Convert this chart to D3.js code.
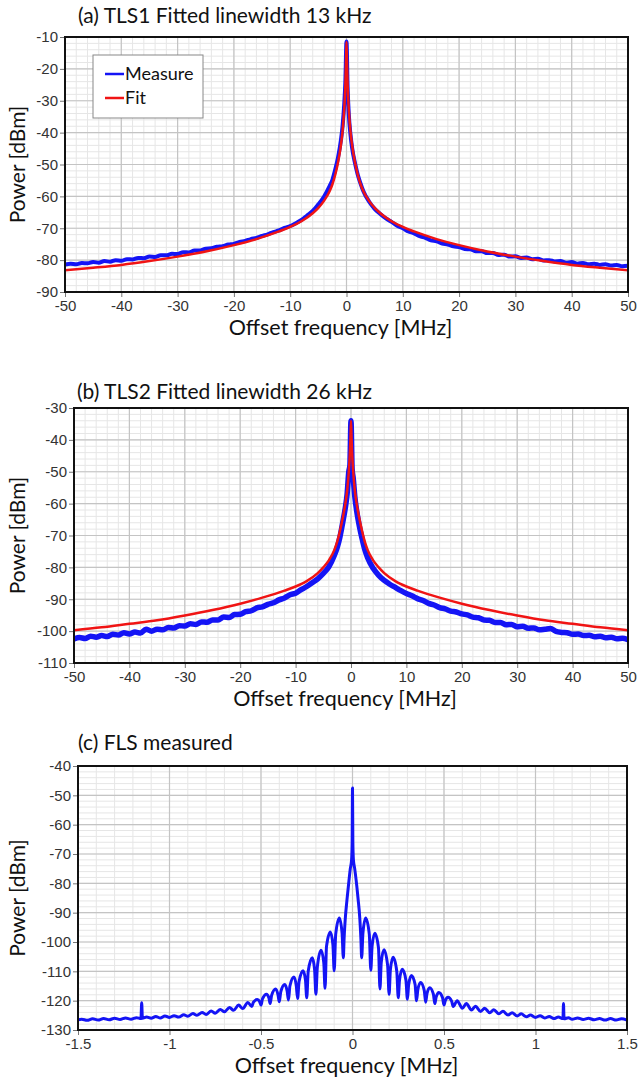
<!DOCTYPE html>
<html>
<head>
<meta charset="utf-8">
<script src="https://cdn.jsdelivr.net/npm/d3@7"></script>
<style>
  body { margin: 0; background: #fff; }
  svg { display: block; font-family: Lato, "Open Sans", sans-serif; }
  .tick-label { font-size: 15px; fill: #333; }
</style>
</head>
<body>
<svg id="chart" width="638" height="1081"></svg>
<script>
// tick labels
const xTicksAB = [-50, -40, -30, -20, -10, 0, 10, 20, 30, 40, 50];
const xTicksC = [-1.5, -1, -0.5, 0, 0.5, 1, 1.5];
const yTicksA = [-90, -80, -70, -60, -50, -40, -30, -20, -10];
const yTicksB = [-110, -100, -90, -80, -70, -60, -50, -40, -30];
const yTicksC = [-130, -120, -110, -100, -90, -80, -70, -60, -50, -40];

// (a) TLS1 measured spectrum [MHz, dBm]
const measureA = [
  [-50, -81.4], [-49, -81.1], [-48, -81.3], [-47, -80.9], [-46, -81.0], [-45, -80.6], [-44, -80.8],
  [-43, -80.3], [-42, -80.5], [-41, -80.0], [-40, -80.2], [-39, -79.7], [-38, -79.8], [-37, -79.3],
  [-36, -79.4], [-35, -78.9], [-34, -79.0], [-33, -78.5], [-32, -78.5], [-31, -78.0], [-30, -78.1],
  [-29, -77.5], [-28, -77.6], [-27, -77.0], [-26, -77.0], [-25, -76.4], [-24, -76.3], [-23, -75.8],
  [-22, -75.6], [-21, -75.1], [-20, -74.9], [-19, -74.3], [-18, -74.0], [-17, -73.4], [-16, -73.0],
  [-15, -72.4], [-14, -71.9], [-13, -71.2], [-12, -70.7], [-11, -69.9], [-10, -69.3], [-9, -68.4],
  [-8, -67.4], [-7, -66.0], [-6, -64.6], [-5, -62.5], [-4, -60.1], [-3, -56.8], [-2.5, -54.8],
  [-2, -51.6], [-1.5, -47.8], [-1, -42.5], [-0.7, -38], [-0.4, -31], [-0.2, -24], [0, -11.4],
  [0.2, -26], [0.4, -34], [0.7, -40.5], [1, -44.8], [1.5, -49.5], [2, -53.2], [2.5, -56], [3, -58.4],
  [4, -61.6], [5, -63.9], [6, -65.5], [7, -66.9], [8, -68.0], [9, -69.2], [10, -70.0], [11, -71.0],
  [12, -71.6], [13, -72.5], [14, -73.0], [15, -73.8], [16, -74.1], [17, -74.8], [18, -75.1],
  [19, -75.7], [20, -75.9], [21, -76.5], [22, -76.6], [23, -77.2], [24, -77.2], [25, -77.8],
  [26, -77.8], [27, -78.4], [28, -78.3], [29, -78.9], [30, -78.8], [31, -79.3], [32, -79.2],
  [33, -79.7], [34, -79.6], [35, -80.1], [36, -80.0], [37, -80.4], [38, -80.3], [39, -80.8],
  [40, -80.6], [41, -81.1], [42, -80.9], [43, -81.3], [44, -81.1], [45, -81.5], [46, -81.3],
  [47, -81.7], [48, -81.5], [49, -81.9], [50, -81.8]
];

// (a) Lorentzian fit
const fitA = [
  [-50, -83.2], [-45, -82.4], [-40, -81.5], [-35, -80.3], [-30, -78.9], [-25, -77.3], [-20, -75.3],
  [-16, -73.4], [-12, -71.0], [-10, -69.6], [-8, -67.8], [-6, -65.3], [-5, -63.6], [-4, -61.4],
  [-3, -58.4], [-2.5, -56.2], [-2, -53.2], [-1.5, -49.3], [-1, -44], [-0.7, -39.5], [-0.4, -32.5],
  [-0.2, -25], [-0.1, -18.5], [0, -11.5], [0.1, -18.5], [0.2, -25], [0.4, -32.5], [0.7, -39.5],
  [1, -44], [1.5, -49.3], [2, -53.2], [2.5, -56.2], [3, -58.4], [4, -61.4], [5, -63.6], [6, -65.3],
  [8, -67.8], [10, -69.6], [12, -71.0], [16, -73.4], [20, -75.3], [25, -77.3], [30, -78.9],
  [35, -80.3], [40, -81.5], [45, -82.4], [50, -83.2]
];

// (b) TLS2 measured spectrum
const measureB = [
  [-50, -102.5], [-49, -102.0], [-48, -102.3], [-47, -101.6], [-46, -101.9], [-45, -101.4],
  [-44, -101.7], [-43, -101.0], [-42, -101.2], [-41, -100.5], [-40, -100.9], [-39, -100.3],
  [-38, -100.6], [-37, -99.4], [-36, -100.0], [-35, -99.4], [-34, -99.6], [-33, -98.9], [-32, -99.0],
  [-31, -98.3], [-30, -98.4], [-29, -97.7], [-28, -97.9], [-27, -97.1], [-26, -97.2], [-25, -96.5],
  [-24, -96.5], [-23, -95.6], [-22, -95.7], [-21, -94.8], [-20, -94.7], [-19, -93.9], [-18, -93.6],
  [-17, -92.7], [-16, -92.4], [-15, -91.6], [-14, -91.1], [-13, -90.2], [-12, -89.6], [-11, -88.6],
  [-10, -88.1], [-9, -87.0], [-8, -86.0], [-7, -84.8], [-6, -83.6], [-5, -81.9], [-4, -79.8],
  [-3, -76.2], [-2.5, -73.8], [-2, -70.5], [-1.5, -66], [-1, -61], [-0.7, -57], [-0.4, -50],
  [-0.2, -48], [0, -34], [0.2, -49], [0.4, -52], [0.7, -58], [1, -62], [1.5, -67], [2, -71],
  [2.5, -74.5], [3, -77], [4, -80.3], [5, -82.5], [6, -84.1], [7, -85.3], [8, -86.3], [9, -87.3],
  [10, -88.2], [11, -88.9], [12, -89.8], [13, -90.4], [14, -91.3], [15, -91.8], [16, -92.6],
  [17, -93.0], [18, -93.7], [19, -94.0], [20, -94.6], [21, -94.9], [22, -95.6], [23, -95.8],
  [24, -96.5], [25, -96.6], [26, -97.3], [27, -97.3], [28, -98.0], [29, -97.9], [30, -98.6],
  [31, -98.5], [32, -99.1], [33, -99.0], [34, -99.6], [35, -99.4], [36, -99.2], [37, -100.1],
  [38, -100.4], [39, -100.5], [40, -101.0], [41, -100.9], [42, -101.4], [43, -101.3], [44, -101.8],
  [45, -101.6], [46, -102.1], [47, -101.9], [48, -102.4], [49, -102.2], [50, -102.7]
];

// (b) Lorentzian fit
const fitB = [
  [-50, -99.7], [-45, -98.8], [-40, -97.7], [-35, -96.6], [-30, -95.1], [-25, -93.4], [-20, -91.4],
  [-16, -89.5], [-12, -87.3], [-10, -86.0], [-8, -84.3], [-6, -81.8], [-5, -80.0], [-4, -77.8],
  [-3, -74.5], [-2.5, -72.0], [-2, -68.6], [-1.5, -64.6], [-1, -59.8], [-0.7, -56], [-0.4, -50],
  [-0.2, -44], [-0.1, -39.5], [0, -34], [0.1, -39.5], [0.2, -44], [0.4, -50], [0.7, -56],
  [1, -59.8], [1.5, -64.6], [2, -68.6], [2.5, -72.0], [3, -74.5], [4, -77.8], [5, -80.0],
  [6, -81.8], [8, -84.3], [10, -86.0], [12, -87.3], [16, -89.5], [20, -91.4], [25, -93.4],
  [30, -95.1], [35, -96.6], [40, -97.7], [45, -98.8], [50, -99.7]
];

// (c) FLS measured spectrum
const measureC = [
  [-1.5, -126.5], [-1.48, -126.3], [-1.45, -126.7], [-1.42, -126.2], [-1.39, -126.6], [-1.36, -126.1],
  [-1.33, -126.5], [-1.3, -126.0], [-1.27, -126.4], [-1.24, -125.9], [-1.21, -126.3], [-1.18, -125.8],
  [-1.156, -126.1], [-1.152, -120.7], [-1.148, -126.0], [-1.125, -125.6], [-1.1, -126.0],
  [-1.075, -125.4], [-1.05, -125.9], [-1.025, -125.2], [-1.0, -125.7], [-0.975, -125.1],
  [-0.95, -125.6], [-0.922, -124.8], [-0.9, -125.3], [-0.872, -124.4], [-0.85, -125.0],
  [-0.822, -124.0], [-0.8, -124.7], [-0.772, -123.5], [-0.75, -124.3], [-0.722, -123.0],
  [-0.7, -123.8], [-0.672, -122.3], [-0.65, -123.3], [-0.622, -121.5], [-0.6, -122.7],
  [-0.572, -120.6], [-0.55, -122.0], [-0.542, -120.6], [-0.52, -119.6], [-0.507, -120.4],
  [-0.5, -121.5], [-0.492, -119.4], [-0.47, -117.8], [-0.457, -119.0], [-0.45, -121.0],
  [-0.442, -118.2], [-0.42, -116.0], [-0.407, -118.0], [-0.4, -120.4], [-0.392, -117.0],
  [-0.37, -114.5], [-0.357, -116.8], [-0.35, -119.8], [-0.342, -115.0], [-0.32, -111.9],
  [-0.307, -115.0], [-0.3, -119.3], [-0.292, -113.5], [-0.27, -109.8], [-0.257, -113.0],
  [-0.25, -119.0], [-0.242, -110.0], [-0.22, -105.4], [-0.207, -109.5], [-0.2, -117.8],
  [-0.192, -108.5], [-0.172, -102.8], [-0.157, -107.0], [-0.15, -115.8], [-0.142, -101.5],
  [-0.121, -96.6], [-0.107, -101.0], [-0.1, -109.8], [-0.092, -97.5], [-0.072, -91.8],
  [-0.057, -97.0], [-0.05, -105.4], [-0.046, -99.0], [-0.04, -92.5], [-0.03, -85.5], [-0.02, -79.5],
  [-0.012, -75.0], [-0.005, -72.0], [-0.002, -66.0], [0, -47.5], [0.002, -66.0], [0.005, -72.0],
  [0.012, -75.0], [0.02, -79.0], [0.03, -85.0], [0.04, -92.0], [0.046, -99.0], [0.05, -105.4],
  [0.057, -97.0], [0.072, -91.8], [0.092, -97.5], [0.1, -109.6], [0.107, -101.5], [0.122, -97.0],
  [0.142, -102.0], [0.15, -116.0], [0.157, -107.0], [0.172, -102.6], [0.192, -108.0], [0.2, -117.8],
  [0.207, -109.5], [0.222, -105.2], [0.242, -110.0], [0.25, -119.0], [0.257, -113.0],
  [0.272, -109.3], [0.292, -113.0], [0.3, -119.5], [0.307, -114.5], [0.322, -111.4],
  [0.342, -114.5], [0.35, -120.0], [0.357, -116.3], [0.372, -113.8], [0.392, -116.5],
  [0.4, -120.5], [0.407, -117.6], [0.422, -115.6], [0.442, -117.8], [0.45, -121.0],
  [0.457, -118.8], [0.472, -117.2], [0.492, -119.0], [0.5, -121.5], [0.507, -120.0],
  [0.522, -118.8], [0.542, -120.2], [0.55, -122.0], [0.572, -120.0], [0.6, -122.6],
  [0.622, -121.0], [0.65, -123.2], [0.672, -121.9], [0.7, -123.7], [0.722, -122.6],
  [0.75, -124.1], [0.772, -123.1], [0.8, -124.5], [0.822, -123.6], [0.85, -124.9],
  [0.872, -124.1], [0.9, -125.2], [0.922, -124.5], [0.95, -125.5], [0.972, -124.9],
  [1.0, -125.7], [1.025, -125.1], [1.05, -125.9], [1.075, -125.4], [1.1, -126.1], [1.125, -125.6],
  [1.15, -126.1], [1.153, -121.0], [1.156, -126.2], [1.18, -125.8], [1.2, -126.3], [1.23, -125.9],
  [1.26, -126.4], [1.29, -126.0], [1.32, -126.5], [1.35, -126.1], [1.38, -126.6], [1.41, -126.1],
  [1.44, -126.6], [1.47, -126.2], [1.5, -126.6]
];

const BLUE = '#1414f5';
const RED = '#f01414';

const svg = d3.select('#chart');

function drawPanel(cfg) {
  const x = d3.scaleLinear().domain(cfg.xDomain).range([cfg.left, cfg.right]);
  const y = d3.scaleLinear().domain(cfg.yDomain).range([cfg.bottom, cfg.top]);
  const g = svg.append('g');

  // minor grid (5 subdivisions)
  const xStep = (cfg.xTicks[1] - cfg.xTicks[0]) / 5;
  const yStep = (cfg.yTicks[1] - cfg.yTicks[0]) / 5;
  const xMinor = d3.range(cfg.xDomain[0], cfg.xDomain[1] + 1e-9, xStep);
  const yMinor = d3.range(cfg.yDomain[0], cfg.yDomain[1] + 1e-9, yStep);

  g.append('g').selectAll('line').data(xMinor).join('line')
    .attr('x1', d => x(d)).attr('x2', d => x(d))
    .attr('y1', cfg.top).attr('y2', cfg.bottom)
    .attr('stroke', '#e6e6e6').attr('stroke-width', 1);
  g.append('g').selectAll('line').data(yMinor).join('line')
    .attr('x1', cfg.left).attr('x2', cfg.right)
    .attr('y1', d => y(d)).attr('y2', d => y(d))
    .attr('stroke', '#e6e6e6').attr('stroke-width', 1);

  // major grid
  g.append('g').selectAll('line').data(cfg.xTicks).join('line')
    .attr('x1', d => x(d)).attr('x2', d => x(d))
    .attr('y1', cfg.top).attr('y2', cfg.bottom)
    .attr('stroke', '#c4c4c4').attr('stroke-width', 1.2);
  g.append('g').selectAll('line').data(cfg.yTicks).join('line')
    .attr('x1', cfg.left).attr('x2', cfg.right)
    .attr('y1', d => y(d)).attr('y2', d => y(d))
    .attr('stroke', '#c4c4c4').attr('stroke-width', 1.2);

  // axes
  const xAxis = d3.axisBottom(x).tickValues(cfg.xTicks).tickSize(5).tickPadding(3)
    .tickFormat(d => String(d));
  const yAxis = d3.axisLeft(y).tickValues(cfg.yTicks).tickSize(5).tickPadding(2)
    .tickFormat(d => String(d));
  const gx = g.append('g').attr('transform', `translate(0,${cfg.bottom})`).call(xAxis);
  const gy = g.append('g').attr('transform', `translate(${cfg.left},0)`).call(yAxis);
  [gx, gy].forEach(a => {
    a.select('.domain').remove();
    a.selectAll('.tick line').attr('stroke', '#777');
    a.selectAll('.tick text').attr('class', 'tick-label').attr('font-family', null).attr('font-size', null);
  });

  // data
  const clipId = 'clip-' + cfg.id;
  svg.append('clipPath').attr('id', clipId).append('rect')
    .attr('x', cfg.left).attr('y', cfg.top - 2)
    .attr('width', cfg.right - cfg.left).attr('height', cfg.bottom - cfg.top + 2);
  const line = d3.line().x(d => x(d[0])).y(d => y(d[1])).curve(d3.curveMonotoneX);
  cfg.series.forEach(s => {
    g.append('path').datum(s.data)
      .attr('clip-path', `url(#${clipId})`)
      .attr('fill', 'none').attr('stroke', s.color)
      .attr('stroke-width', s.width).attr('stroke-linejoin', 'round')
      .attr('d', line);
  });

  // frame
  g.append('rect')
    .attr('x', cfg.left).attr('y', cfg.top)
    .attr('width', cfg.right - cfg.left).attr('height', cfg.bottom - cfg.top)
    .attr('fill', 'none').attr('stroke', '#111').attr('stroke-width', 2);

  // titles
  g.append('text').attr('x', cfg.titleX).attr('y', cfg.titleY)
    .attr('font-size', 21).attr('fill', '#111').text(cfg.title);
  g.append('text').attr('x', (cfg.left + cfg.right) / 2 - 6).attr('y', cfg.bottom + 43)
    .attr('text-anchor', 'middle').attr('font-size', 21.5).attr('fill', '#111')
    .text('Offset frequency [MHz]');
  g.append('text')
    .attr('transform', `translate(25,${(cfg.top + cfg.bottom) / 2}) rotate(-90)`)
    .attr('text-anchor', 'middle').attr('font-size', 21).attr('fill', '#111')
    .text('Power [dBm]');

  return g;
}

const gA = drawPanel({
  id: 'a', left: 65, right: 628, top: 37, bottom: 292,
  xDomain: [-50, 50], yDomain: [-90, -10], xTicks: xTicksAB, yTicks: yTicksA,
  title: '(a) TLS1 Fitted linewidth 13 kHz', titleX: 78, titleY: 23,
  series: [
    { data: measureA, color: BLUE, width: 4 },
    { data: fitA, color: RED, width: 2.5 }
  ]
});

// legend
const legend = gA.append('g').attr('transform', 'translate(93,55)');
legend.append('rect').attr('width', 110).attr('height', 63)
  .attr('fill', '#fff').attr('stroke', '#888').attr('stroke-width', 1);
[{ label: 'Measure', color: BLUE }, { label: 'Fit', color: RED }].forEach((d, i) => {
  const yy = 19 + i * 24;
  legend.append('line').attr('x1', 12).attr('x2', 31).attr('y1', yy).attr('y2', yy)
    .attr('stroke', d.color).attr('stroke-width', 2.5);
  legend.append('text').attr('x', 32).attr('y', yy + 6).attr('font-size', 18)
    .attr('fill', '#111').text(d.label);
});

drawPanel({
  id: 'b', left: 74, right: 628, top: 408, bottom: 663,
  xDomain: [-50, 50], yDomain: [-110, -30], xTicks: xTicksAB, yTicks: yTicksB,
  title: '(b) TLS2 Fitted linewidth 26 kHz', titleX: 77, titleY: 399,
  series: [
    { data: measureB, color: BLUE, width: 5.5 },
    { data: fitB, color: RED, width: 2.5 }
  ]
});

drawPanel({
  id: 'c', left: 78, right: 627, top: 766, bottom: 1030,
  xDomain: [-1.5, 1.5], yDomain: [-130, -40], xTicks: xTicksC, yTicks: yTicksC,
  title: '(c) FLS measured', titleX: 78, titleY: 750,
  series: [
    { data: measureC, color: BLUE, width: 3 }
  ]
});
</script>
</body>
</html>
